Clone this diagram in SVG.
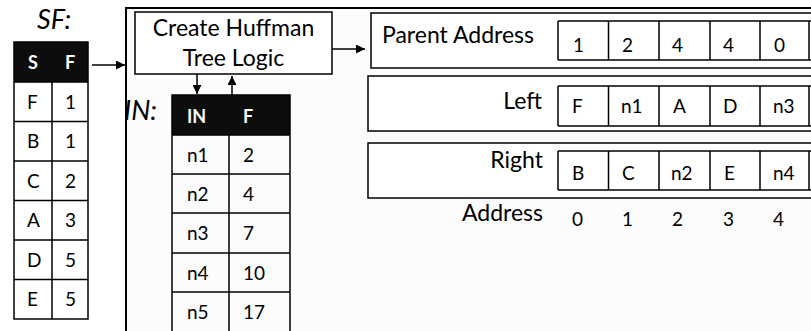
<svg xmlns="http://www.w3.org/2000/svg" width="811" height="331" viewBox="0 0 811 331">
<style>
.t{font-family:Lato,"Liberation Sans",sans-serif;fill:#000}
.it{font-style:italic}
.hd{font-weight:bold;fill:#fff;font-size:18px}
.c{font-size:19px}
.lbl{font-size:23px}
.box{fill:#fff;stroke:#000;stroke-width:1.5}
.grid{fill:none;stroke:#000;stroke-width:1.5}
.conn{stroke:#000;stroke-width:1.5;fill:none}
</style>
<defs>
<marker id="ah" viewBox="0 0 10 10" refX="10" refY="5" markerWidth="9" markerHeight="9" markerUnits="userSpaceOnUse" orient="auto">
<path d="M0,0 L10,5 L0,10 Z" fill="#000"/>
</marker>
</defs>
<rect width="811" height="331" fill="#fff"/>

<g id="outer">
<rect x="126" y="8" width="720" height="360" fill="#fcfcfc" stroke="#000" stroke-width="2"/>
</g>

<g id="sf-table">
<text class="t it" x="37" y="29" font-size="27">SF:</text>
<rect x="14" y="42" width="74" height="40" fill="#0d0d0d"/>
<text class="t hd" x="28" y="69">S</text>
<text class="t hd" x="65" y="69">F</text>
<path class="grid" d="M14,42 H88 V319 H14 Z M14,82 H88 M14,121.5 H88 M14,161 H88 M14,200.5 H88 M14,240 H88 M14,279.5 H88 M52,82 V319"/>
<g class="t c">
<text x="27" y="109">F</text><text x="65" y="109">1</text>
<text x="27" y="148">B</text><text x="65" y="148">1</text>
<text x="27" y="188">C</text><text x="65" y="188">2</text>
<text x="27" y="227">A</text><text x="65" y="227">3</text>
<text x="27" y="267">D</text><text x="65" y="267">5</text>
<text x="27" y="306">E</text><text x="65" y="306">5</text>
</g>
</g>

<g id="create-huffman">
<rect class="box" x="135" y="12" width="197" height="62"/>
<text class="t lbl" x="233.5" y="36" text-anchor="middle">Create Huffman</text>
<text class="t lbl" x="233.5" y="66" text-anchor="middle">Tree Logic</text>
</g>

<g id="in-table">
<text class="t it" x="124" y="120" font-size="27">IN:</text>
<rect x="172" y="95" width="118" height="40" fill="#0d0d0d"/>
<text class="t hd" x="187" y="123">IN</text>
<text class="t hd" x="243" y="123">F</text>
<path class="grid" d="M172,95 H290 V335 H172 Z M172,135 H290 M172,174 H290 M172,213 H290 M172,253 H290 M172,292 H290 M229,135 V335"/>
<g class="t c">
<text x="187" y="162">n1</text><text x="243" y="162">2</text>
<text x="187" y="201">n2</text><text x="243" y="201">4</text>
<text x="187" y="240">n3</text><text x="243" y="240">7</text>
<text x="187" y="280">n4</text><text x="243" y="280">10</text>
<text x="187" y="319">n5</text><text x="243" y="319">17</text>
</g>
</g>

<g id="parent-address">
<rect class="box" x="371" y="13" width="460" height="55"/>
<text class="t lbl" x="382" y="43">Parent Address</text>
<path class="grid" d="M558,21 H830 M558,60 H830 M558,21 V60 M608.5,21 V60 M659,21 V60 M710,21 V60 M760,21 V60 M809,21 V60"/>
<g class="t c">
<text x="573" y="52">1</text><text x="622" y="52">2</text><text x="672" y="52">4</text><text x="723" y="52">4</text><text x="774" y="52">0</text>
</g>
</g>

<g id="left">
<rect class="box" x="368" y="76" width="460" height="55"/>
<text class="t lbl" x="542" y="109" text-anchor="end">Left</text>
<path class="grid" d="M558,86 H830 M558,126 H830 M558,86 V126 M608.5,86 V126 M659,86 V126 M710,86 V126 M760,86 V126 M809,86 V126"/>
<g class="t c">
<text x="572" y="113">F</text><text x="621" y="113">n1</text><text x="673" y="113">A</text><text x="723" y="113">D</text><text x="773" y="113">n3</text>
</g>
</g>

<g id="right">
<rect class="box" x="368" y="143" width="460" height="55"/>
<text class="t lbl" x="543" y="168" text-anchor="end">Right</text>
<path class="grid" d="M558,151 H830 M558,190 H830 M558,151 V190 M608.5,151 V190 M659,151 V190 M710,151 V190 M760,151 V190 M809,151 V190"/>
<g class="t c">
<text x="572" y="180">B</text><text x="622" y="180">C</text><text x="671" y="180">n2</text><text x="724" y="180">E</text><text x="773" y="180">n4</text>
</g>
</g>

<g id="address">
<text class="t lbl" x="543" y="221" text-anchor="end">Address</text>
<g class="t c">
<text x="572" y="226">0</text><text x="622" y="226">1</text><text x="672" y="226">2</text><text x="723" y="226">3</text><text x="773" y="226">4</text>
</g>
</g>

<g id="connectors">
<line class="conn" x1="92" y1="65" x2="125" y2="65" marker-end="url(#ah)"/>
<line class="conn" x1="197" y1="74" x2="197" y2="94" marker-end="url(#ah)"/>
<line class="conn" x1="232" y1="95" x2="232" y2="76" marker-end="url(#ah)"/>
<line class="conn" x1="332" y1="49" x2="365" y2="49" marker-end="url(#ah)"/>
</g>
</svg>
